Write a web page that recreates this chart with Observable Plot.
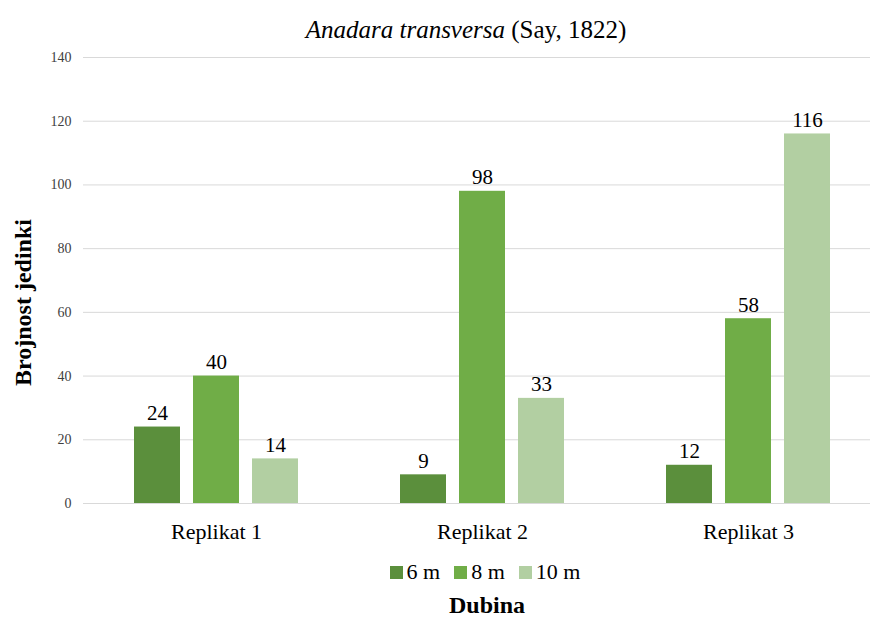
<!DOCTYPE html>
<html>
<head>
<meta charset="utf-8">
<script src="https://cdn.jsdelivr.net/npm/d3@7"></script>
<script src="https://cdn.jsdelivr.net/npm/@observablehq/plot@0.6"></script>
<style>
  body { margin: 0; background: #fff; font-family: "Liberation Serif", "Tinos", "Times New Roman", "DejaVu Serif", serif; color: #000; }
  #title { width: 870px; height: 45px; box-sizing: border-box; padding-top: 16px; line-height: 28px; font-size: 25px; text-align: center; padding-left: 62px; }
  #legend { width: 870px; box-sizing: border-box; margin-top: 7px; line-height: 24px; font-size: 22px; text-align: center; padding-left: 100px; }
  #legend .item { display: inline-block; margin: 0 7px; }
  #legend .sw { display: inline-block; width: 13px; height: 13px; margin-right: 4px; vertical-align: 0px; }
  #xlabel { width: 870px; box-sizing: border-box; margin-top: 9px; line-height: 24px; font-size: 24px; font-weight: bold; text-align: center; padding-left: 104px; }
  svg { display: block; }
</style>
</head>
<body>
<div id="title"><i>Anadara transversa</i> (Say, 1822)</div>
<div id="chart"></div>
<div id="legend"></div>
<div id="xlabel">Dubina</div>
<script>
const replikati = ["Replikat 1", "Replikat 2", "Replikat 3"];
const dubine = ["6 m", "8 m", "10 m"];
const vrijednosti6 = [24, 9, 12];
const vrijednosti8 = [40, 98, 58];
const vrijednosti10 = [14, 33, 116];
const boje = ["#5b8f3c", "#70ad47", "#b2cfa2"];
const yTicks = [0, 20, 40, 60, 80, 100, 120, 140];
const yNaslov = "Brojnost jedinki";

const serije = [vrijednosti6, vrijednosti8, vrijednosti10];
const data = [];
replikati.forEach((r, i) => {
  dubine.forEach((d, j) => {
    data.push({replikat: r, dubina: d, value: serije[j][i]});
  });
});

const font = "'Liberation Serif', 'Tinos', 'Times New Roman', 'DejaVu Serif', serif";

const chart = Plot.plot({
  width: 870,
  height: 508,
  marginTop: 12,
  marginBottom: 50,
  marginLeft: 82,
  marginRight: 0,
  style: {fontFamily: font, color: "#000", background: "#fff"},
  fx: {domain: replikati, range: [82, 882], padding: 0, label: null, axis: null},
  x: {domain: dubine, paddingInner: 0.224, paddingOuter: 0.863, axis: null},
  y: {domain: [0, 140], label: null},
  color: {domain: dubine, range: boje},
  marks: [
    Plot.gridY(yTicks, {stroke: "#d9d9d9", strokeOpacity: 1, strokeWidth: 1}),
    Plot.axisY(yTicks, {tickSize: 0, tickPadding: 12, fontSize: 14, label: null, fill: "#404040"}),
    Plot.axisFx({anchor: "bottom", tickSize: 0, tickPadding: 20, fontSize: 22, label: null, fill: "#000"}),
    Plot.barY(data, {fx: "replikat", x: "dubina", y: "value", fill: "dubina"}),
    Plot.text(data, {fx: "replikat", x: "dubina", y: "value", text: d => String(d.value), lineAnchor: "bottom", dy: -7, fontSize: 21, fill: "#000"}),
    Plot.text([yNaslov], {fx: () => replikati[0], frameAnchor: "left", textAnchor: "middle", text: d => d, rotate: -90, dx: -60, dy: 22, fontSize: 24, fontWeight: "bold", fill: "#000"})
  ]
});
document.getElementById("chart").appendChild(chart);

const legend = d3.select("#legend");
dubine.forEach((d, j) => {
  const it = legend.append("span").attr("class", "item");
  it.append("span").attr("class", "sw").style("background", boje[j]);
  it.append("span").text(d);
});
</script>
</body>
</html>
